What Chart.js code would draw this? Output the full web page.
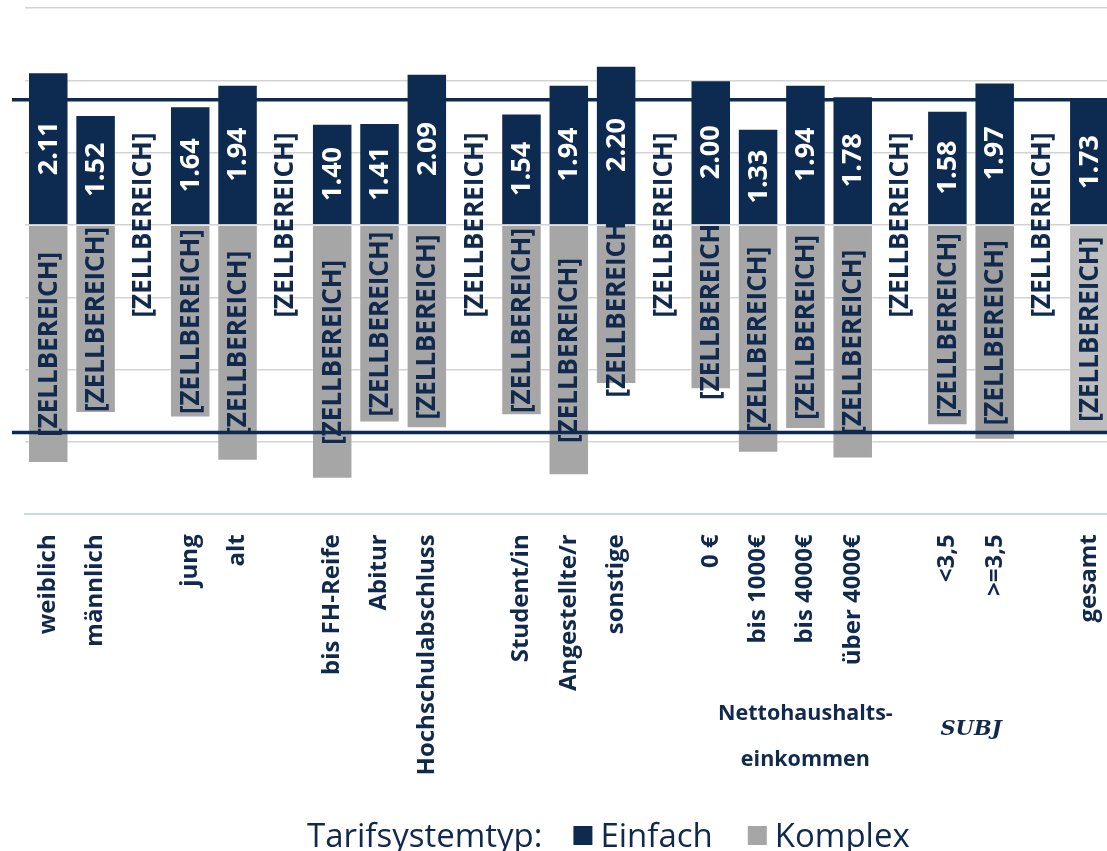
<!DOCTYPE html>
<html>
<head>
<meta charset="utf-8">
<script src="https://cdn.jsdelivr.net/npm/chart.js@4"></script>
<style>
  html, body { margin: 0; padding: 0; background: #ffffff; overflow: hidden; }
  #wrap { position: relative; width: 1113px; height: 851px; }
</style>
</head>
<body>
<div id="wrap"><canvas id="c"></canvas></div>
<script>
// ---- data ----
const categories = ['weiblich', 'männlich', '', 'jung', 'alt', '', 'bis FH-Reife', 'Abitur', 'Hochschulabschluss', '', 'Student/in', 'Angestellte/r', 'sonstige', '', '0 €', 'bis 1000€', 'bis 4000€', 'über 4000€', '', '<3,5', '>=3,5', '', 'gesamt'];
const einfach = [2.11, 1.52, null, 1.64, 1.94, null, 1.40, 1.41, 2.09, null, 1.54, 1.94, 2.20, null, 2.00, 1.33, 1.94, 1.78, null, 1.58, 1.97, null, 1.73];
const komplex = [-3.29, -2.60, 0, -2.66, -3.26, 0, -3.51, -2.73, -2.81, 0, -2.63, -3.46, -2.20, 0, -2.27, -3.15, -2.82, -3.23, 0, -2.77, -2.97, 0, -2.87];
const komplexLabel = '[ZELLBEREICH]';
const seriesNames = ['Einfach', 'Komplex'];
const legendTitle = 'Tarifsystemtyp:';
const groupLabels = [
  { lines: ['Nettohaushalts-', 'einkommen'], at: 16, italic: false },
  { lines: ['SUBJ'], at: 19.5, italic: true }
];

// ---- styles ----
const NAVY = '#0d2a51';
const TEXT = '#10294d';
const GREY = '#a6a6a6';
const komplexColors = komplex.map((v, i) => i === 20 ? '#9e9e9e' : (i === 22 ? '#bdbdbd' : GREY));

const labelPlugin = {
  id: 'labels',
  afterDatasetsDraw(chart) {
    const ctx = chart.ctx;
    const y = chart.scales.y;
    // reference lines at the "gesamt" values
    const last = categories.length - 1;
    ctx.save();
    ctx.strokeStyle = NAVY;
    ctx.lineWidth = 3.5;
    [einfach[last], komplex[last]].forEach(v => {
      const py = y.getPixelForValue(v);
      ctx.beginPath();
      ctx.moveTo(12, py);
      ctx.lineTo(chart.width, py);
      ctx.stroke();
    });
    ctx.restore();

    // data labels
    chart.data.datasets.forEach((ds, di) => {
      const meta = chart.getDatasetMeta(di);
      meta.data.forEach((el, i) => {
        const v = ds.data[i];
        if (v === null || v === undefined) return;
        const cy = (el.y + el.base) / 2;
        ctx.save();
        ctx.translate(el.x, cy);
        ctx.rotate(-Math.PI / 2);
        ctx.textAlign = 'center';
        ctx.textBaseline = 'middle';
        if (di === 0) {
          ctx.fillStyle = '#ffffff';
          ctx.font = 'bold 27px "Open Sans"';
          ctx.fillText(v.toFixed(2), 0, 1);
        } else {
          ctx.fillStyle = TEXT;
          ctx.font = 'bold 26px "Open Sans"';
          ctx.fillText(komplexLabel, 0, 1);
        }
        ctx.restore();
      });
    });
  },
  afterDraw(chart) {
    const ctx = chart.ctx;
    const x = chart.scales.x;
    ctx.save();
    ctx.fillStyle = TEXT;
    ctx.textAlign = 'center';
    ctx.textBaseline = 'middle';
    // group captions
    groupLabels.forEach(g => {
      const lo = Math.floor(g.at), hi = Math.ceil(g.at);
      const px = (x.getPixelForValue(lo) + x.getPixelForValue(hi)) / 2;
      if (g.italic) {
        ctx.font = 'italic 700 21px "DejaVu Serif"';
        ctx.fillText(g.lines[0], px, 730);
      } else {
        ctx.font = 'bold 21.5px "Open Sans"';
        g.lines.forEach((t, k) => ctx.fillText(t, px, 714 + k * 46));
      }
    });
    // legend row
    ctx.textAlign = 'left';
    ctx.textBaseline = 'alphabetic';
    ctx.font = '33px "Open Sans"';
    let cx = 307;
    const base = 847;
    ctx.fillText(legendTitle, cx, base);
    cx += ctx.measureText(legendTitle).width + 31;
    const cols = [NAVY, GREY];
    seriesNames.forEach((n, k) => {
      ctx.fillStyle = cols[k];
      ctx.fillRect(cx, 826, 19, 19);
      cx += 27;
      ctx.fillStyle = TEXT;
      ctx.fillText(n, cx, base);
      cx += ctx.measureText(n).width + 35;
    });
    ctx.restore();
  }
};

new Chart(document.getElementById('c'), {
  type: 'bar',
  data: {
    labels: categories,
    datasets: [
      { label: seriesNames[0], data: einfach, backgroundColor: NAVY, borderColor: 'rgba(255,255,255,0.35)', borderWidth: 1, grouped: false, barPercentage: 0.856, categoryPercentage: 1 },
      { label: seriesNames[1], data: komplex, backgroundColor: komplexColors, borderColor: 'rgba(255,255,255,0.35)', borderWidth: 1, grouped: false, barPercentage: 0.856, categoryPercentage: 1 }
    ]
  },
  options: {
    responsive: true,
    maintainAspectRatio: false,
    animation: false,
    devicePixelRatio: 1,
    layout: { padding: { top: 8, left: 24.6, right: 0, bottom: 0 } },
    plugins: { legend: { display: false }, tooltip: { enabled: false } },
    scales: {
      x: {
        offset: true,
        grid: { display: false, drawTicks: false },
        border: { display: true, color: '#c5d9f1', width: 2 },
        ticks: {
          autoSkip: false, minRotation: 90, maxRotation: 90, padding: 20,
          color: TEXT, font: { family: 'Open Sans', weight: 'bold', size: 24 }
        },
        afterFit(s) { s.height = 851 - 514.3; s.paddingLeft = 0; s.paddingRight = 0; }
      },
      y: {
        min: -4, max: 3,
        ticks: { display: false, stepSize: 1 },
        border: { display: false },
        grid: {
          drawTicks: false, lineWidth: 1.5,
          color: c => (c.tick && c.tick.value === -4) ? 'rgba(0,0,0,0)' : '#d3d3d3'
        },
        afterFit(s) { s.width = 0; }
      }
    }
  },
  plugins: [labelPlugin]
});
</script>
</body>
</html>
